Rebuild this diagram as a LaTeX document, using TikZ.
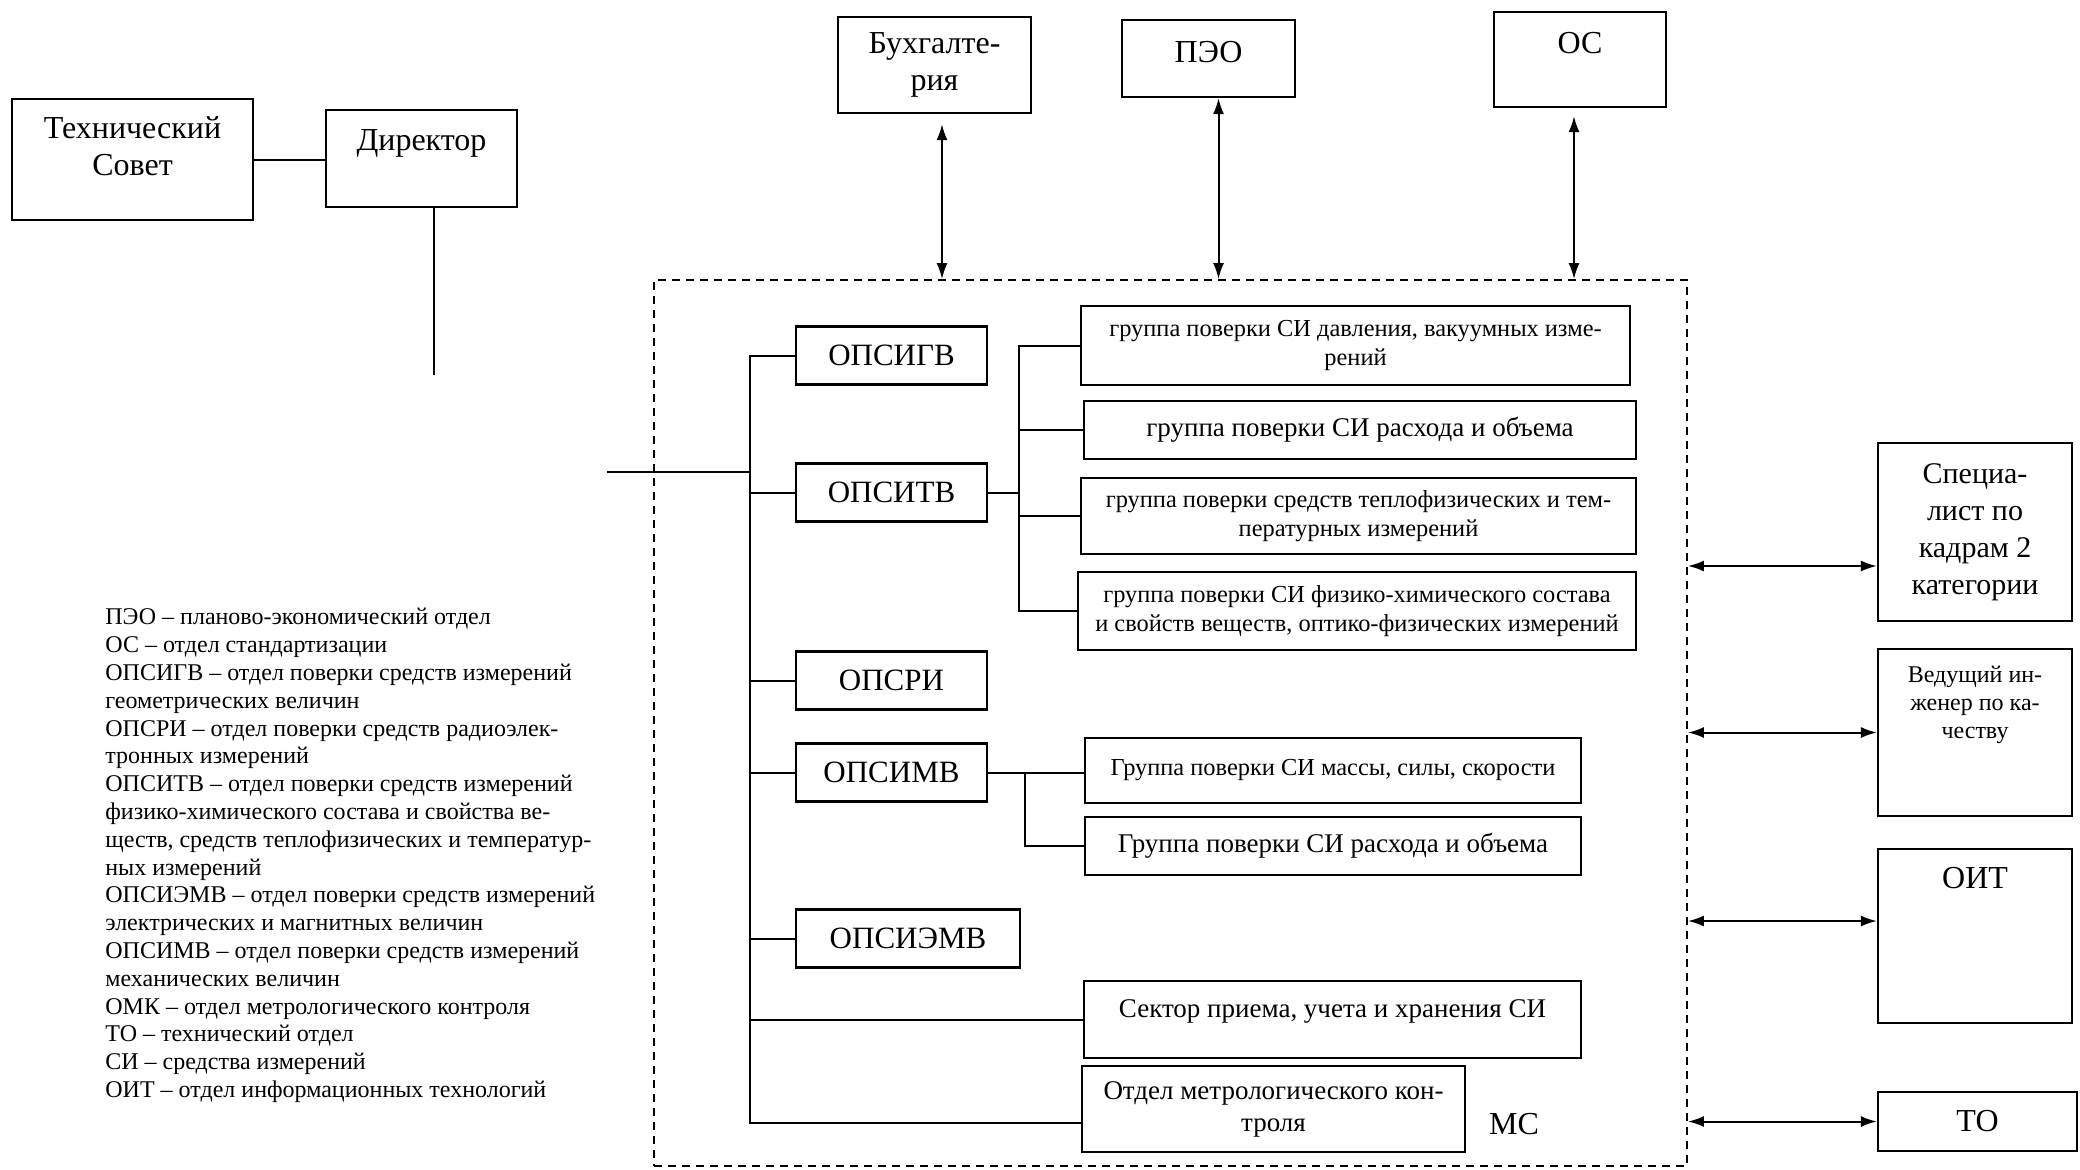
\documentclass[tikz,border=0pt]{standalone}
\usepackage{fontspec}
\setmainfont{Liberation Serif}
\usetikzlibrary{arrows.meta,positioning}

\begin{document}
\begin{tikzpicture}[x=0.5pt, y=-0.5pt,
    >={Latex[length=8pt,width=5.5pt]},
    box/.style={draw, line width=1.1pt, inner sep=0pt, align=center},
    hdr/.style={font=\fontsize{16}{18.5}\selectfont},
    grpfont/.style={font=\fontsize{12.2}{14.5}\selectfont},
    grpbig/.style={font=\fontsize{13.5}{16}\selectfont},
    dept/.style={box, font=\fontsize{15.5}{18}\selectfont, minimum width=95.5pt, minimum height=29pt},
    grp/.style={box, grpfont},
    sidebox/.style={box, minimum width=97pt},
    intop/.style={anchor=north, inner sep=0pt, align=center, yshift=#1},
    frame/.style={draw, line width=0.9pt, dash pattern=on 4pt off 3pt},
    legend/.style={align=left, inner sep=0pt, font=\fontsize{12}{13.9}\selectfont},
    conn/.style={line width=1pt}]
    \useasboundingbox (0, 0) rectangle (2080, 1169);

    % management
    \node[box, minimum width=120.5pt, minimum height=60.5pt, label={[intop=-9pt, hdr]north:{Технический\\Совет}}] at (132.5, 159.5)(tech){};
    \node[box, minimum width=95.5pt, minimum height=48.5pt, label={[intop=-10pt, hdr]north:Директор}] at (421.5, 158.5)(dir){};
    \node[box, hdr, minimum width=96.5pt, minimum height=48pt] at (934.5, 65)(buh){Бухгалте-\\рия};
    \node[box, minimum width=86.5pt, minimum height=38.5pt, label={[intop=-11pt, hdr]north:ПЭО}] at (1208.5, 58.5)(peo){};
    \node[box, minimum width=86pt, minimum height=47.5pt, label={[intop=-10.5pt, hdr]north:ОС}] at (1580, 59.5)(os){};

    % metrological service
    \node[frame, minimum width=516.5pt, minimum height=443pt] at (1170.5, 723)(ms){};
    \node[dept] at (891.5, 355.5)(opsigv){ОПСИГВ};
    \node[dept] at (891.5, 492.5)(opsitv){ОПСИТВ};
    \node[dept] at (891.5, 680.5)(opsri){ОПСРИ};
    \node[dept] at (891.5, 772.5)(opsimv){ОПСИМВ};
    \node[dept, minimum width=112pt] at (908, 938.5)(opsiemv){ОПСИЭМВ};

    \node[grp, minimum width=274.5pt, minimum height=39.5pt] at (1355.5, 345.5)(g1){группа поверки СИ давления, вакуумных изме-\\рений};
    \node[grp, grpbig, minimum width=276pt, minimum height=29pt] at (1360, 430)(g2){группа поверки СИ расхода и объема};
    \node[grp, minimum width=277.5pt, minimum height=38pt] at (1358.5, 516)(g3){группа поверки средств теплофизических и тем-\\пературных измерений};
    \node[grp, minimum width=279pt, minimum height=39pt] at (1357, 611)(g4){группа поверки СИ физико-химического состава\\и свойств веществ, оптико-физических измерений};
    \node[grp, minimum width=248pt, minimum height=32.5pt] at (1333, 770.5)(m1){Группа поверки СИ массы, силы, скорости};
    \node[grp, grpbig, minimum width=248pt, minimum height=29pt] at (1333, 846)(m2){Группа поверки СИ расхода и объема};
    \node[grp, minimum width=248.5pt, minimum height=38.5pt, label={[intop=-9.5pt, grpbig]north:Сектор приема, учета и хранения СИ}] at (1332.5, 1019.5)(sektor){};
    \node[grp, grpbig, minimum width=191.5pt, minimum height=43pt] at (1273.5, 1109)(omk){Отдел метрологического кон-\\троля};
    \node[hdr] at (1514, 1124)(mslbl){МС};

    % right column
    \node[sidebox, minimum height=89pt, label={[intop=-10.5pt, font=\fontsize{15}{18.5}\selectfont]north:{Специа-\\лист по\\кадрам 2\\категории}}] at (1975, 532)(kadr){};
    \node[sidebox, minimum height=83.5pt, label={[intop=-9pt, font=\fontsize{12}{14}\selectfont]north:{Ведущий ин-\\женер по ка-\\честву}}] at (1975, 732.5)(vedu){};
    \node[sidebox, minimum height=87pt, label={[intop=-9.5pt, hdr]north:ОИТ}] at (1975, 936)(oit){};
    \node[sidebox, hdr, minimum width=99.5pt, minimum height=29.5pt] at (1977.5, 1121.5)(tdept){ТО};

    % abbreviations
    \node[legend, anchor=north west] at (105, 608)(leg){ПЭО – планово-экономический отдел\\
        ОС – отдел стандартизации\\
        ОПСИГВ –  отдел поверки средств измерений\\
        геометрических величин\\
        ОПСРИ – отдел поверки средств радиоэлек-\\
        тронных измерений\\
        ОПСИТВ – отдел поверки  средств измерений\\
        физико-химического состава и свойства ве-\\
        ществ, средств теплофизических и температур-\\
        ных измерений\\
        ОПСИЭМВ – отдел поверки средств измерений\\
        электрических и магнитных величин\\
        ОПСИМВ – отдел поверки средств измерений\\
        механических величин\\
        ОМК – отдел метрологического контроля\\
        ТО – технический отдел\\
        СИ – средства измерений\\
        ОИТ – отдел информационных технологий};

    % connectors
    \draw[conn] (tech.east) -- (tech.east -| dir.west);
    \coordinate (dd) at (434, 375);
    \draw[conn] (dd |- dir.south) -- (dd);
    \coordinate (din) at (607, 472);
    \coordinate (bb) at (750, 1123);
    \draw[conn] (opsigv.west) -| (bb) -- (bb -| omk.west);
    \draw[conn] (din) -- (din -| bb);
    \foreach \n in {opsitv, opsri, opsimv, opsiemv, sektor}
        \draw[conn] (\n.west) -- (\n.west -| bb);

    \draw[conn] (g1.west) -- ++(-61, 0) coordinate (s1) -- (s1 |- g4.west) -- (g4.west);
    \draw[conn] (opsitv.east) -- (opsitv.east -| s1);
    \draw[conn] (g2.west) -- (g2.west -| s1);
    \draw[conn] (g3.west) -- (g3.west -| s1);

    \draw[conn] (opsimv.east) -- (opsimv.east -| m1.west);
    \draw[conn] (m2.west) -- ++(-59, 0) coordinate (s2) -- (s2 |- opsimv.east);

    \draw[conn, <->, shorten <=5pt] ([xshift=3.75pt]buh.south) -- ([xshift=3.75pt]buh.south |- ms.north);
    \draw[conn, <->] ([xshift=5pt]peo.south) -- ([xshift=5pt]peo.south |- ms.north);
    \draw[conn, <->, shorten <=4pt] ([xshift=-3pt]os.south) -- ([xshift=-3pt]os.south |- ms.north);
    \draw[conn, <->] ([yshift=-17pt]kadr.west) -- ([yshift=-17pt]kadr.west -| ms.east);
    \draw[conn, <->] (vedu.west) -- (vedu.west -| ms.east);
    \draw[conn, <->] ([yshift=7.5pt]oit.west) -- ([yshift=7.5pt]oit.west -| ms.east);
    \draw[conn, <->] (tdept.west) -- (tdept.west -| ms.east);
\end{tikzpicture}
\end{document}
